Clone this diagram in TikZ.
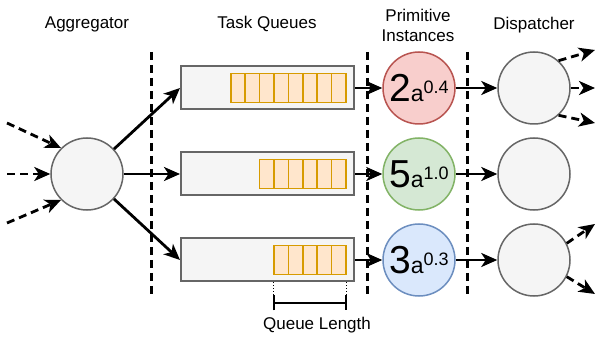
\documentclass[tikz,border=0pt]{standalone}
\usepackage{fontspec}
\setmainfont{Liberation Sans}
\usetikzlibrary{arrows.meta}
\definecolor{nodefill}{HTML}{F5F5F5}
\definecolor{nodeline}{HTML}{666666}
\definecolor{cellfill}{HTML}{FFE6CC}
\definecolor{cellline}{HTML}{D79B00}
\definecolor{redfill}{HTML}{F8CECC}
\definecolor{redline}{HTML}{B85450}
\definecolor{greenfill}{HTML}{D5E8D4}
\definecolor{greenline}{HTML}{82B366}
\definecolor{bluefill}{HTML}{DAE8FC}
\definecolor{blueline}{HTML}{6C8EBF}
\tikzset{
  hdr/.style={font=\fontsize{17}{20}\selectfont, anchor=base, inner sep=0pt},
  roundnode/.style={circle, draw=nodeline, fill=nodefill, line width=1.5pt, minimum size=72pt, inner sep=0pt},
  queuebox/.style={rectangle, draw=nodeline, fill=nodefill, line width=2pt, minimum width=173pt, minimum height=43pt, inner sep=0pt},
  cellbox/.style={rectangle, draw=cellline, fill=cellfill, line width=1.6pt, minimum width=14.4pt, minimum height=29pt, inner sep=0pt},
  instnode/.style={roundnode, font=\fontsize{39}{39}\selectfont},
  sep/.style={line width=3pt, dash pattern=on 8pt off 5pt},
  arr/.style={line width=2.8pt, -{Stealth[length=16pt, width=14pt, inset=4.5pt]}},
  darr/.style={arr, dash pattern=on 8pt off 5pt},
}
\newcommand{\inst}[2]{#1{\fontsize{23}{23}\selectfont a\raisebox{8pt}{\fontsize{18}{18}\selectfont #2}}}
\begin{document}
\begin{tikzpicture}[x=1pt, y=-1pt]
\useasboundingbox (0,0) rectangle (598,342);

% column headings
\node[hdr] (hagg) at (87,29) {Aggregator};
\node[hdr] (hq) at (267,29) {Task Queues};
\node[hdr] (hp1) at (418,22) {Primitive};
\node[hdr] (hp2) at (418,42) {Instances};
\node[hdr] (hd) at (534,30) {Dispatcher};

% stage separators
\foreach \x/\n in {151/a, 367/b, 467/c} {
  \coordinate (s\n t) at (\x,52);
  \coordinate (s\n b) at (\x,295);
  \draw[sep] (s\n t) -- (s\n b);
}

% aggregator
\node[roundnode] (agg) at (87,174) {};

% queues with their pending tasks
\foreach \r/\y/\n in {1/88/8, 2/174/6, 3/260/5} {
  \node[queuebox] (q\r) at (267.5,\y) {};
  \foreach \i in {1,...,\n} {
    \pgfmathsetmacro{\cx}{346 - (\n - \i + 0.5)*14.4}
    \node[cellbox] (c\r-\i) at (\cx,\y) {};
  }
}

% primitive instances
\node[instnode, fill=redfill, draw=redline] (p1) at (419,88) {\inst{2}{0.4}};
\node[instnode, fill=greenfill, draw=greenline] (p2) at (419,174) {\inst{5}{1.0}};
\node[instnode, fill=bluefill, draw=blueline] (p3) at (419,260) {\inst{3}{0.3}};

% dispatchers
\node[roundnode] (d1) at (534,88) {};
\node[roundnode] (d2) at (534,174) {};
\node[roundnode] (d3) at (534,260) {};

% incoming requests
\coordinate (in1) at (7,123);
\coordinate (in2) at (7,174);
\coordinate (in3) at (7,223);
\draw[darr] (in1) -- (agg.135);
\draw[darr] (in2) -- (agg.west);
\draw[darr] (in3) -- (agg.225);

% aggregator to queues, queues to instances, instances to dispatchers
\foreach \r in {1,2,3} {
  \draw[arr] (agg) -- (q\r.west);
  \draw[arr] (q\r.east) -- (p\r.west);
  \draw[arr] (p\r.east) -- (d\r.west);
}

% outgoing dispatches
\coordinate (o11) at (595,50);
\coordinate (o12) at (595,88);
\coordinate (o13) at (595,123);
\coordinate (o31) at (595,224);
\coordinate (o32) at (595,294);
\draw[darr] (d1.48) -- (o11);
\draw[darr] (d1.east) -- (o12);
\draw[darr] (d1.-48) -- (o13);
\draw[darr] (d3.27) -- (o31);
\draw[darr] (d3.-27) -- (o32);

% queue length dimension
\coordinate (ql1) at (c3-1.west |- 0,303);
\coordinate (ql2) at (c3-5.east |- 0,303);
\draw[line width=0.8pt, dash pattern=on 1pt off 2pt] (c3-1.west |- q3.south) -- (ql1);
\draw[line width=0.8pt, dash pattern=on 1pt off 2pt] (c3-5.east |- q3.south) -- (ql2);
\draw[line width=1.8pt, {Bar[width=15pt]}-{Bar[width=15pt]}] (ql1) -- (ql2);
\node[font=\fontsize{17}{20}\selectfont, inner sep=0pt] (qlab) at (317,325) {Queue Length};
\end{tikzpicture}
\end{document}
